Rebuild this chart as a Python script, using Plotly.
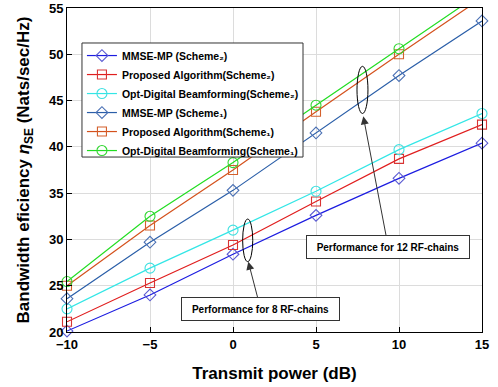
import plotly.graph_objects as go

# ---- data ----
tx_power = [-10, -5, 0, 5, 10, 15]
mmse_s2 = [20.1, 24.0, 28.4, 32.6, 36.6, 40.4]
prop_s2 = [21.1, 25.3, 29.4, 34.1, 38.7, 42.4]
opt_s2 = [22.5, 26.9, 31.0, 35.2, 39.7, 43.6]
mmse_s1 = [23.6, 29.7, 35.3, 41.5, 47.7, 53.6]
prop_s1 = [25.0, 31.5, 37.5, 43.8, 50.0, 56.1]
opt_s1 = [25.45, 32.5, 38.3, 44.5, 50.6, 56.7]

names = [
    "MMSE-MP (Scheme₂)",
    "Proposed Algorithm(Scheme₂)",
    "Opt-Digital Beamforming(Scheme₂)",
    "MMSE-MP (Scheme₁)",
    "Proposed Algorithm(Scheme₁)",
    "Opt-Digital Beamforming(Scheme₁)",
]
series = [mmse_s2, prop_s2, opt_s2, mmse_s1, prop_s1, opt_s1]
line_colors = ["#1c1ce0", "#e01e1e", "#33e6e6", "#2a5ea8", "#d4511c", "#22dd22"]
marker_colors = ["#5a5ad2", "#d83434", "#40e0e0", "#4a70b4", "#d4602c", "#33d633"]
symbols = ["diamond-open", "square-open", "circle-open",
           "diamond-open", "square-open", "circle-open"]
sizes = [9, 9, 10, 9, 9, 10]

FONT = "Liberation Sans, Arial, Helvetica, sans-serif"

fig = go.Figure()
for name, ys, lc, mc, sym, sz in zip(names, series, line_colors, marker_colors, symbols, sizes):
    fig.add_trace(go.Scatter(
        x=tx_power, y=ys, name=name, mode="lines+markers",
        line=dict(color=lc, width=1.2),
        marker=dict(symbol=sym, size=sz, color=mc, line=dict(width=1.1, color=mc)),
        cliponaxis=False,
    ))

# legend frame (drawn as a shape so its padding matches)
fig.add_shape(type="rect", xref="paper", yref="paper", x0=0.0361, x1=0.5687, y0=0.540, y1=0.892,
              line=dict(color="#333333", width=1), fillcolor="white", layer="above")

# ellipses
fig.add_shape(type="circle", xref="x", yref="y", x0=7.47, x1=8.13, y0=43.6, y1=48.7,
              line=dict(color="black", width=1))
fig.add_shape(type="circle", xref="x", yref="y", x0=0.58, x1=1.19, y0=27.6, y1=32.2,
              line=dict(color="black", width=1))

# annotations with arrows
fig.add_annotation(x=7.85, y=43.3, ax=9.35, ay=29.2, xref="x", yref="y", axref="x", ayref="y",
                   text="Performance for 12 RF-chains", showarrow=True, arrowhead=2,
                   arrowsize=1.6, arrowwidth=1, arrowcolor="#333333",
                   font=dict(family=FONT, size=10, color="black", weight="bold"),
                   bgcolor="white", bordercolor="#333333", borderwidth=1,
                   width=160, height=20, standoff=0)
fig.add_annotation(x=0.92, y=27.6, ax=1.67, ay=22.44, xref="x", yref="y", axref="x", ayref="y",
                   text="Performance for 8 RF-chains", showarrow=True, arrowhead=2,
                   arrowsize=1.6, arrowwidth=1, arrowcolor="#333333",
                   font=dict(family=FONT, size=10, color="black", weight="bold"),
                   bgcolor="white", bordercolor="#333333", borderwidth=1,
                   width=155, height=20, standoff=0)

axis_common = dict(
    showgrid=True, gridcolor="#dcdcdc", gridwidth=1,
    showline=True, linecolor="black", linewidth=1, mirror=True,
    ticks="inside", ticklen=5, tickcolor="black",
    tickfont=dict(family=FONT, size=13, color="black", weight="bold"),
    zeroline=False, automargin=False,
)

fig.update_xaxes(range=[-10, 15], tickvals=[-10, -5, 0, 5, 10, 15],
                 title=dict(text="Transmit power (dB)", standoff=16,
                            font=dict(family=FONT, size=17, color="black", weight="bold")),
                 **axis_common)
fig.update_yaxes(range=[20, 55], tickvals=[20, 25, 30, 35, 40, 45, 50, 55],
                 title=dict(text="Bandwidth eficiency <i>η</i><sub>SE</sub> (Nats/sec/Hz)", standoff=14,
                            font=dict(family=FONT, size=17, color="black", weight="bold")),
                 **axis_common)

fig.update_layout(
    width=498, height=387,
    margin=dict(l=67, r=16, t=8, b=55, autoexpand=False),
    paper_bgcolor="white", plot_bgcolor="white",
    showlegend=True,
    legend=dict(x=0.036, y=0.898, xanchor="left", yanchor="top",
                bgcolor="rgba(0,0,0,0)", borderwidth=0,
                font=dict(family=FONT, size=10.5, color="black", weight="bold"),
                tracegroupgap=0, itemwidth=30),
)

fig.write_html("out.html", config={"displayModeBar": False},
               post_script="document.body.style.margin='0';")
